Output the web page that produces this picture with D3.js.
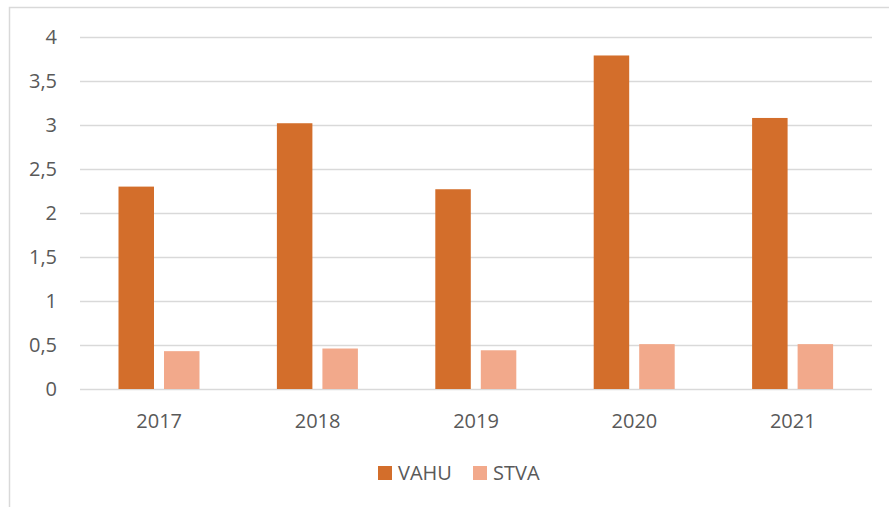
<!DOCTYPE html>
<html>
<head>
<meta charset="utf-8">
<script src="https://cdn.jsdelivr.net/npm/d3@7"></script>
<style>
  body { margin: 0; background: #fff; }
  text { font-family: "Open Sans", sans-serif; fill: #595959; }
</style>
</head>
<body>
<script>
// data
var years = ["2017", "2018", "2019", "2020", "2021"];
var vahu = [2.30, 3.02, 2.27, 3.79, 3.08];
var stva = [0.43, 0.46, 0.44, 0.51, 0.51];
var seriesNames = ["VAHU", "STVA"];
var seriesColors = ["#D36E2B", "#F2A98B"];
var yTicks = [0, 0.5, 1, 1.5, 2, 2.5, 3, 3.5, 4];

var W = 889, H = 507;
var margin = {top: 37, right: 17, bottom: 118, left: 80},
    width = W - margin.left - margin.right,
    height = H - margin.top - margin.bottom;

var svg = d3.select("body").append("svg")
    .attr("width", W)
    .attr("height", H);

// chart frame (only left and top edges are visible)
svg.append("rect")
    .attr("x", 9.5).attr("y", 7.5)
    .attr("width", W + 10).attr("height", H + 10)
    .attr("fill", "none")
    .attr("stroke", "#D9D9D9")
    .attr("stroke-width", 1.5);

var g = svg.append("g")
    .attr("transform", "translate(" + margin.left + "," + margin.top + ")");

var x0 = d3.scaleBand().domain(years).range([0, width]);
var x1 = d3.scaleBand().domain(seriesNames).range([38.5, 38.5 + 81]).paddingInner(0.22);
var y = d3.scaleLinear().domain([0, 4]).range([height, 0]);

// gridlines
g.append("g").selectAll("line")
    .data(yTicks)
    .enter().append("line")
    .attr("x1", 0).attr("x2", width)
    .attr("y1", function(d) { return Math.round(y(d)) + 0.5; })
    .attr("y2", function(d) { return Math.round(y(d)) + 0.5; })
    .attr("stroke", "#D9D9D9")
    .attr("stroke-width", 1.5);

// y labels
g.append("g").selectAll("text")
    .data(yTicks)
    .enter().append("text")
    .attr("x", -23)
    .attr("y", function(d) { return y(d); })
    .attr("dy", "0.35em")
    .attr("text-anchor", "end")
    .style("font-size", "20px")
    .text(function(d) { return String(d).replace(".", ","); });

// bars
var rows = years.map(function(yr, i) { return {year: yr, values: [vahu[i], stva[i]]}; });

var groups = g.selectAll(".grp")
    .data(rows)
    .enter().append("g")
    .attr("class", "grp")
    .attr("transform", function(d) { return "translate(" + x0(d.year) + ",0)"; });

groups.selectAll("rect")
    .data(function(d) { return d.values.map(function(v, k) { return {name: seriesNames[k], v: v, c: seriesColors[k]}; }); })
    .enter().append("rect")
    .attr("x", function(d) { return x1(d.name); })
    .attr("width", x1.bandwidth())
    .attr("y", function(d) { return y(d.v); })
    .attr("height", function(d) { return height - y(d.v); })
    .attr("fill", function(d) { return d.c; });

// x labels
g.append("g").selectAll("text")
    .data(years)
    .enter().append("text")
    .attr("x", function(d) { return x0(d) + x0.bandwidth() / 2; })
    .attr("y", height + 39)
    .attr("text-anchor", "middle")
    .style("font-size", "20px")
    .text(function(d) { return d; });

// legend
var legendPos = [378, 473];
var legend = svg.append("g").selectAll("g")
    .data(seriesNames)
    .enter().append("g")
    .attr("transform", function(d, i) { return "translate(" + legendPos[i] + ",466)"; });

legend.append("rect")
    .attr("width", 14).attr("height", 14)
    .attr("fill", function(d, i) { return seriesColors[i]; });

legend.append("text")
    .attr("x", 20).attr("y", 14)
    .style("font-size", "20px")
    .text(function(d) { return d; });
</script>
</body>
</html>
